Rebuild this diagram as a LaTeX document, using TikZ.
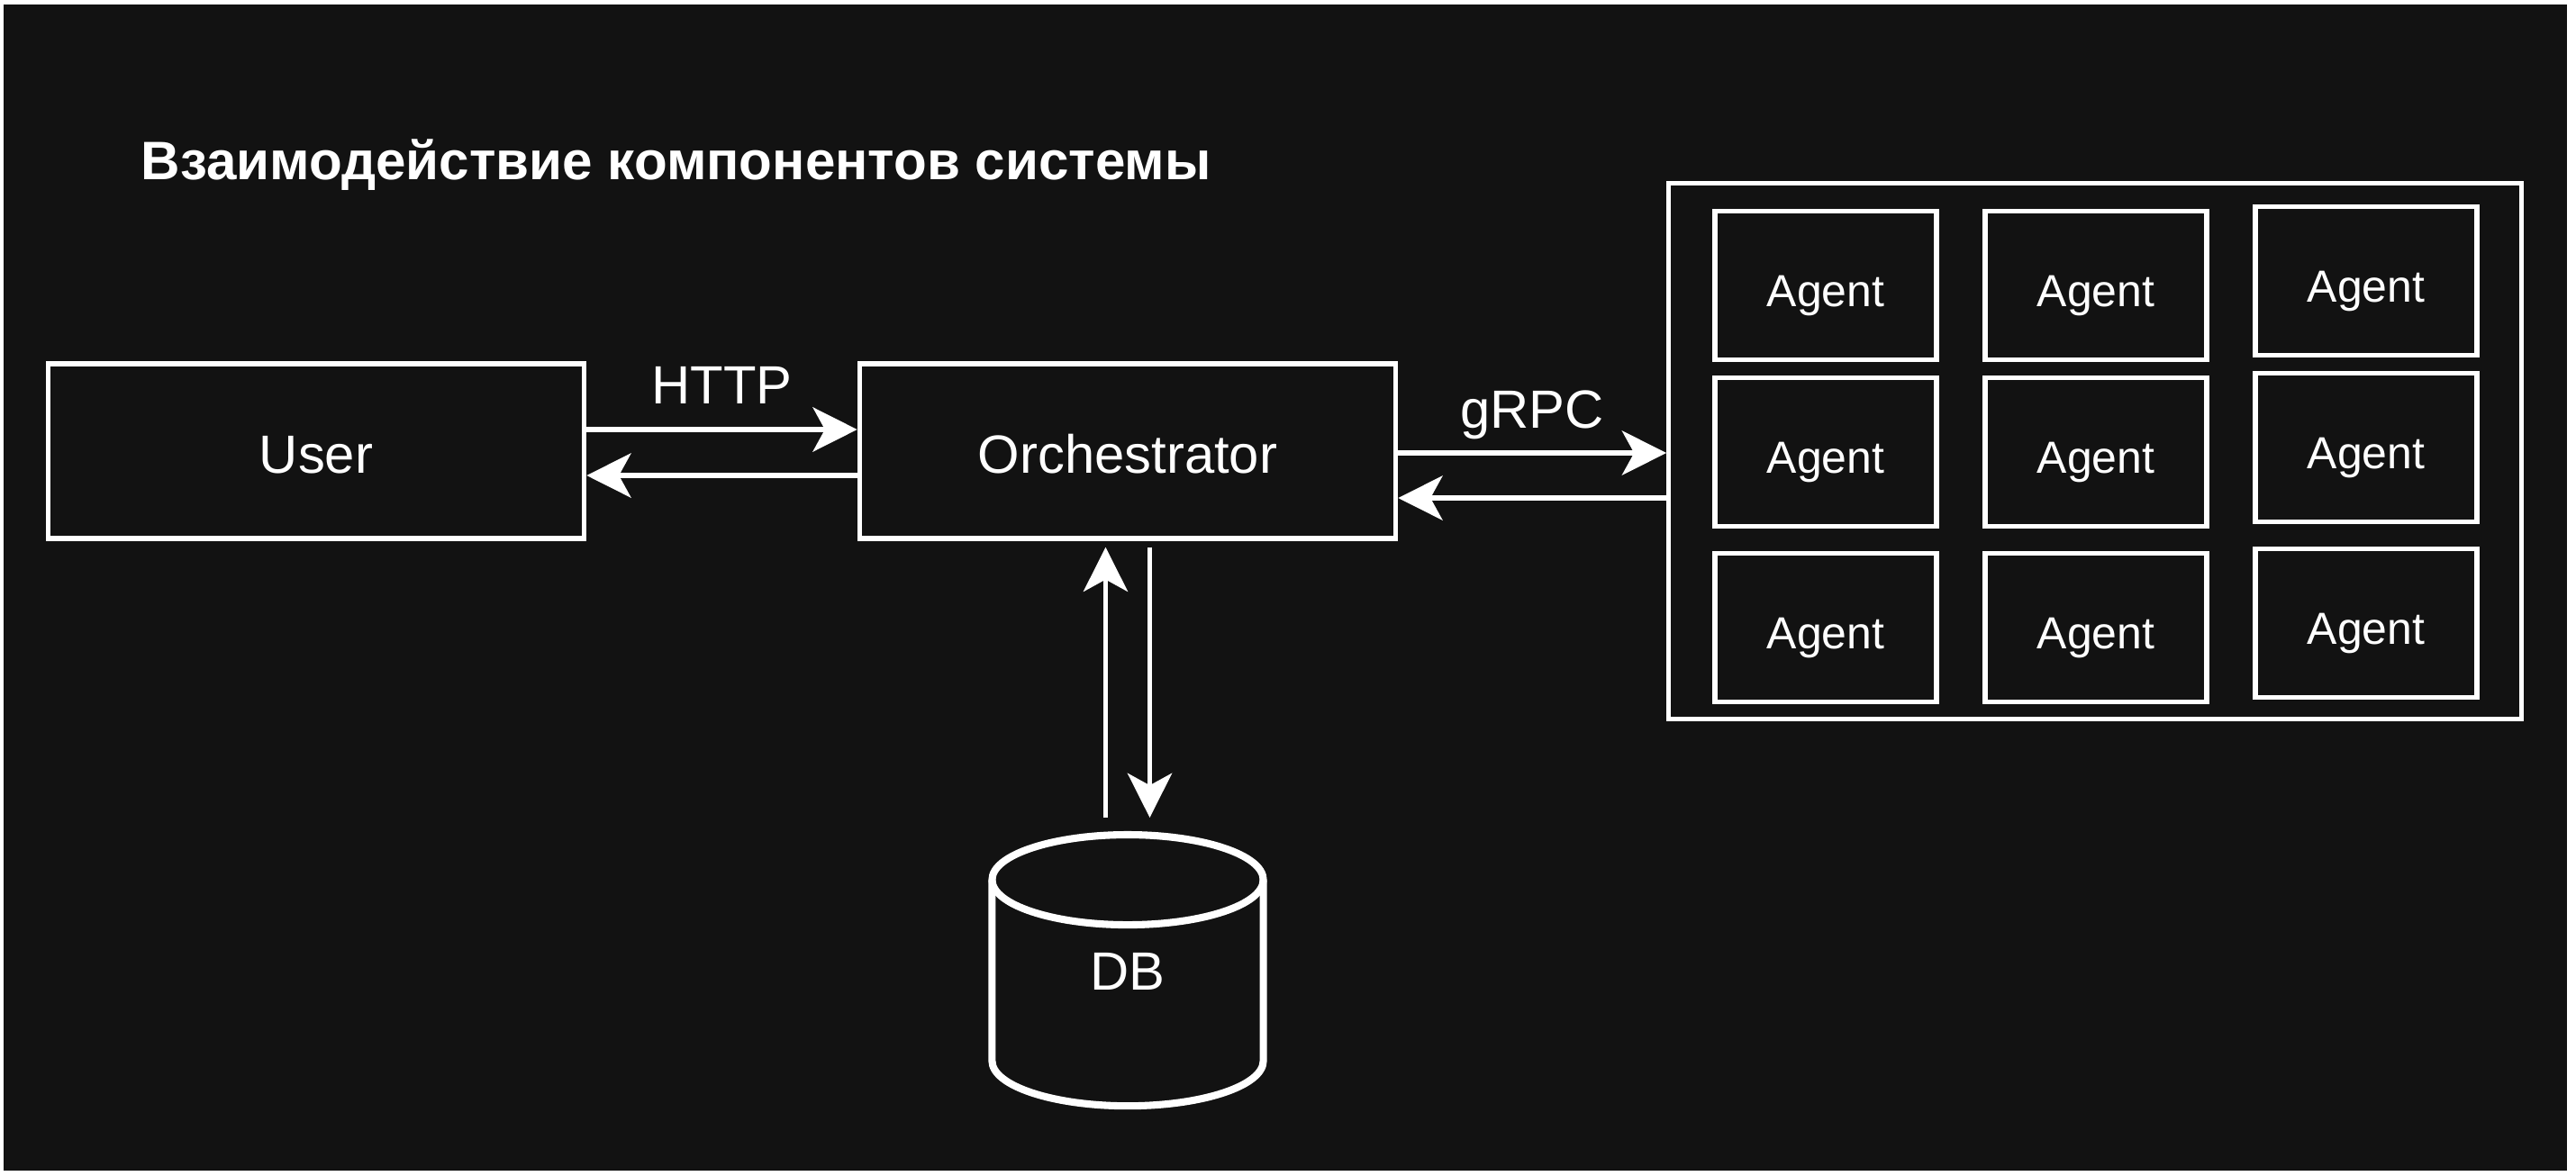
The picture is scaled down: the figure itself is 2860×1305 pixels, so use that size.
\documentclass[tikz,border=0pt]{standalone}
\usepackage{fontspec}
\setmainfont{Liberation Sans}
\usetikzlibrary{arrows.meta}
\definecolor{bgdark}{RGB}{18,18,18}

\begin{document}
\begin{tikzpicture}[x=0.01cm,y=-0.01cm]
   \tikzstyle{every node}=[text=white, font=\fontsize{17}{20}\selectfont]
   \tikzstyle{block}=[draw=white, line width=1.5pt, fill=bgdark, minimum width=5.95cm, minimum height=1.94cm, text height=13.7pt, text depth=0pt]
   \tikzstyle{agent}=[draw=white, line width=1.5pt, fill=bgdark, minimum width=2.46cm, minimum height=1.65cm, font=\fontsize{14.2}{17}\selectfont, text height=13.1pt, text depth=0pt]
   \tikzstyle{link}=[white, line width=1.5pt, -{Stealth[length=14pt,width=14pt,inset=3.8pt]}]
   \tikzstyle{dbline}=[white, line width=2.3pt, line join=round]

% background
\fill[white] (0,0) rectangle (2860,1305);
\fill[bgdark] (4,5) rectangle (2850,1300);

\node[anchor=base west, inner sep=0, font=\bfseries\fontsize{17.1}{21}\selectfont] (title) at (156,199) {Взаимодействие компонентов системы};

\node[block] (user) at (351,501) {User};
\node[block] (orch) at (1252,501) {Orchestrator};
\node[block, minimum width=9.46cm, minimum height=5.95cm] (pool) at (2326,501) {};

% agents
\node[agent] (a11) at (2027,317) {Agent};
\node[agent] (a12) at (2327,317) {Agent};
\node[agent] (a13) at (2627,312) {Agent};
\node[agent] (a21) at (2027,502) {Agent};
\node[agent] (a22) at (2327,502) {Agent};
\node[agent] (a23) at (2627,497) {Agent};
\node[agent] (a31) at (2027,697) {Agent};
\node[agent] (a32) at (2327,697) {Agent};
\node[agent] (a33) at (2627,692) {Agent};

% database
\node[minimum width=3.01cm, minimum height=3.01cm, outer sep=0pt, anchor=north, text height=12.5pt, text depth=0pt] (db) at (1252,927) {DB};
\draw[dbline] ([yshift=-0.5cm]db.north west) -- ([yshift=0.5cm]db.south west)
   arc[start angle=180, end angle=360, x radius=1.505cm, y radius=0.5cm]
   -- ([yshift=-0.5cm]db.north east)
   arc[start angle=0, end angle=180, x radius=1.505cm, y radius=0.5cm] -- cycle;
\draw[dbline] ([yshift=-0.5cm]db.north west) arc[start angle=180, end angle=360, x radius=1.505cm, y radius=0.5cm];

% links
\draw[link] ([yshift=0.24cm]user.east) -- ([yshift=0.24cm]orch.west) node[midway, anchor=base, yshift=0.28cm] {HTTP};
\draw[link] ([yshift=-0.27cm]orch.west) -- ([yshift=-0.27cm]user.east);
\draw[link] ([yshift=-0.02cm]orch.east) -- ([yshift=-0.02cm]pool.west) node[midway, anchor=base, yshift=0.28cm] {gRPC};
\draw[link] ([yshift=-0.52cm]pool.west) -- ([yshift=-0.52cm]orch.east);

\coordinate (up) at ([xshift=-0.245cm]orch.south);
\coordinate (down) at ([xshift=0.245cm]orch.south);
\draw[link, shorten <=0.19cm, shorten >=0.07cm] (up |- db.north) -- (up);
\draw[link, shorten <=0.07cm, shorten >=0.19cm] (down) -- (down |- db.north);

\end{tikzpicture}
\end{document}
